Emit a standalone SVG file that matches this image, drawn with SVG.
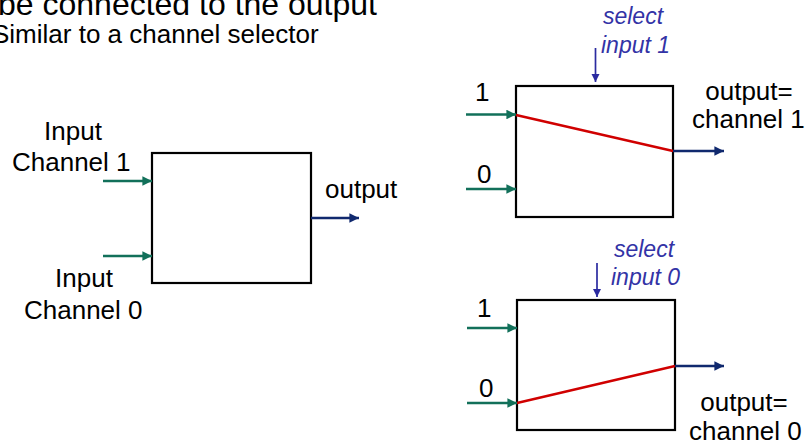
<svg xmlns="http://www.w3.org/2000/svg" width="807" height="445" viewBox="0 0 807 445">
<defs>
<style>
.t{font-family:"Liberation Sans",Arial,sans-serif;font-size:26px;fill:#000}
.s{font-family:"Liberation Sans",Arial,sans-serif;font-size:23px;font-style:italic;fill:#3333a6}
.box{fill:#fff;stroke:#000;stroke-width:2.2}
.in{stroke:#12705a;stroke-width:2.4;fill:none;marker-end:url(#ag)}
.out{stroke:#10296e;stroke-width:2.4;fill:none;marker-end:url(#an)}
.sel{stroke:#2b2ba0;stroke-width:1.7;fill:none;marker-end:url(#ab)}
.path{stroke:#d00000;stroke-width:2.4;fill:none}
</style>
<marker id="ag" viewBox="0 0 10 10" refX="10" refY="5" markerWidth="4" markerHeight="4" orient="auto" markerUnits="strokeWidth"><path d="M0,0L10,5L0,10z" fill="#12705a"/></marker>
<marker id="an" viewBox="0 0 10 10" refX="10" refY="5" markerWidth="4" markerHeight="4" orient="auto" markerUnits="strokeWidth"><path d="M0,0L10,5L0,10z" fill="#10296e"/></marker>
<marker id="ab" viewBox="0 0 10 10" refX="10" refY="5" markerWidth="5" markerHeight="5" orient="auto" markerUnits="strokeWidth"><path d="M0,0L10,5L0,10z" fill="#2b2ba0"/></marker>
</defs>
<rect width="807" height="445" fill="#fff"/>
<text class="t" x="-2" y="14.5" style="font-size:32px">be connected to the output</text>
<text class="t" x="-8" y="43">Similar to a channel selector</text>

<g id="mux-generic">
<rect class="box" x="152" y="153" width="159" height="130"/>
<text class="t" x="73" y="140" text-anchor="middle">Input</text>
<text class="t" x="12" y="171">Channel 1</text>
<text class="t" x="84" y="287" text-anchor="middle">Input</text>
<text class="t" x="24" y="319">Channel 0</text>
<text class="t" x="325" y="198">output</text>
</g>

<g id="mux-select1">
<rect class="box" x="516" y="86" width="157" height="131"/>
<text class="s" x="633" y="24" text-anchor="middle">select</text>
<text class="s" x="601" y="53">input 1</text>
<text class="t" x="475" y="101">1</text>
<text class="t" x="477" y="183">0</text>
<text class="t" x="749" y="99.5" text-anchor="middle">output=</text>
<text class="t" x="692" y="128">channel 1</text>
<line class="path" x1="516" y1="115" x2="673" y2="151"/>
</g>

<g id="mux-select0">
<rect class="box" x="517" y="300" width="158" height="130"/>
<text class="s" x="644" y="257" text-anchor="middle">select</text>
<text class="s" x="611" y="285">input 0</text>
<text class="t" x="477" y="317">1</text>
<text class="t" x="479" y="397">0</text>
<text class="t" x="744" y="411" text-anchor="middle">output=</text>
<text class="t" x="689" y="440">channel 0</text>
<line class="path" x1="517" y1="403" x2="675" y2="366"/>
</g>

<g id="connectors">
<line class="in" x1="103" y1="181" x2="152" y2="181"/>
<line class="in" x1="103" y1="256" x2="152" y2="256"/>
<line class="out" x1="311" y1="218" x2="359" y2="218"/>
<line class="in" x1="466" y1="114.5" x2="516" y2="114.5"/>
<line class="in" x1="466" y1="189" x2="516" y2="189"/>
<line class="out" x1="673" y1="151" x2="724" y2="151"/>
<line class="sel" x1="595.5" y1="48" x2="595.5" y2="82"/>
<line class="in" x1="467" y1="328" x2="517" y2="328"/>
<line class="in" x1="467" y1="403" x2="517" y2="403"/>
<line class="out" x1="675" y1="366" x2="724" y2="366"/>
<line class="sel" x1="597" y1="263" x2="597" y2="297"/>
</g>
</svg>
